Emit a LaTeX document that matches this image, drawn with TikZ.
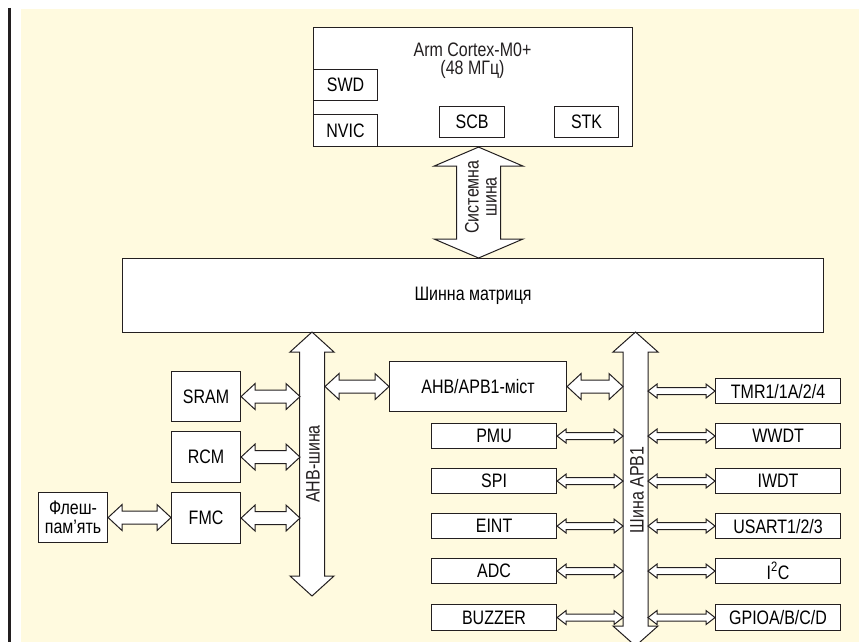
\documentclass[tikz,border=0pt]{standalone}
\usepackage{fontspec}
\setmainfont{Liberation Sans}[FakeStretch=0.82]
\usetikzlibrary{calc}
\definecolor{bg}{RGB}{255,250,223}
\definecolor{ink}{RGB}{35,31,32}
% horizontal double block arrow: left point, right point, half shaft, half head, head length
\newcommand{\hdarr}[5]{%
  \draw[busarrow] let \p1=(#1), \p2=(#2) in
    (\x1,\y1) -- (\x1+#5,\y1+#4) -- (\x1+#5,\y1+#3) -- (\x2-#5,\y1+#3) -- (\x2-#5,\y1+#4)
    -- (\x2,\y1) -- (\x2-#5,\y1-#4) -- (\x2-#5,\y1-#3) -- (\x1+#5,\y1-#3) -- (\x1+#5,\y1-#4) -- cycle;}
% vertical double block arrow: top point, bottom point, half shaft, half head, head length
\newcommand{\vdarr}[5]{%
  \draw[busarrow] let \p1=(#1), \p2=(#2) in
    (\x1,\y1) -- (\x1+#4,\y1-#5) -- (\x1+#3,\y1-#5) -- (\x1+#3,\y2+#5) -- (\x1+#4,\y2+#5)
    -- (\x1,\y2) -- (\x1-#4,\y2+#5) -- (\x1-#3,\y2+#5) -- (\x1-#3,\y1-#5) -- (\x1-#4,\y1-#5) -- cycle;}
\newcommand{\smallL}[1]{\hdarr{#1.east}{#1.east -| apbL}{3.5pt}{7pt}{9pt}}
\newcommand{\smallR}[1]{\hdarr{#1.west -| apbR}{#1.west}{3.5pt}{7pt}{9pt}}
\begin{document}
\begin{tikzpicture}[x=1pt,y=-1pt,
  txt/.style={font=\fontsize{19.5}{18}\selectfont},
  box/.style={draw=ink, line width=1.1pt, fill=white, inner sep=0pt, anchor=north west, txt},
  busarrow/.style={draw=ink, line width=1pt, fill=white, line join=miter},
  lbl/.style={inner sep=0pt, txt, text=ink}]
\useasboundingbox (0,0) rectangle (859,642);
\fill[white] (0,0) rectangle (859,642);
\fill[bg] (21,9) rectangle (859,642);
\draw[ink, line width=2.5pt] (9.7,8) -- (9.7,642);

% CPU
\node[box, minimum width=319pt, minimum height=119pt] (cortex) at (313,27) {};
\node[lbl, align=center, font=\fontsize{19.5}{18}\selectfont] (cpu) at (472.5,61) {Arm Cortex-M0+\\(48 МГц)};
\node[box, minimum width=64pt, minimum height=31pt] (swd) at (313,69) {SWD};
\node[box, minimum width=64pt, minimum height=32pt] (nvic) at (313,114) {NVIC};
\node[box, minimum width=65pt, minimum height=31pt] (scb) at (439,106) {SCB};
\node[box, minimum width=64pt, minimum height=31pt] (stk) at (554,106) {STK};

% bus matrix
\node[box, minimum width=701pt, minimum height=74pt] (matrix) at (122,258) {Шинна матриця};

% system bus
\path (cortex.south) ++(5.5,0) coordinate (sysT);
\path (sysT |- matrix.north) coordinate (sysB);
\vdarr{sysT}{sysB}{22pt}{44.5pt}{19pt}
\node[lbl, rotate=90, align=center] (syslbl) at (481,197) {Системна\\шина};

% AHB side
\node[box, minimum width=69pt, minimum height=50pt] (sram) at (171,371) {SRAM};
\node[box, minimum width=69pt, minimum height=51pt] (rcm) at (171,431) {RCM};
\node[box, minimum width=69pt, minimum height=51pt] (fmc) at (171,492) {FMC};
\node[box, minimum width=69pt, minimum height=50pt, align=center] (flash) at (38,492) {Флеш-\\[1pt]пам’ять};
\node[box, minimum width=177pt, minimum height=50pt] (bridge) at (389,361) {AHB/APB1-міст};

\coordinate (ahbT) at (312,332);
\coordinate (ahbB) at (312,596);
\coordinate (ahbL) at (300,332);
\coordinate (ahbR) at (325,332);
\vdarr{ahbT}{ahbB}{12.5pt}{22pt}{20pt}
\node[lbl, rotate=90] (ahblbl) at (313,464) {AHB-шина};

\hdarr{sram.east}{sram.east -| ahbL}{6.5pt}{13pt}{14pt}
\hdarr{rcm.east}{rcm.east -| ahbL}{6.5pt}{13pt}{14pt}
\hdarr{fmc.east}{fmc.east -| ahbL}{6.5pt}{13pt}{14pt}
\hdarr{flash.east}{fmc.west}{6.5pt}{13pt}{14pt}
\hdarr{bridge.west -| ahbR}{bridge.west}{6.5pt}{13pt}{14pt}

% APB side
\coordinate (apbT) at (635.5,332);
\coordinate (apbB) at (635.5,646);
\coordinate (apbL) at (623,332);
\coordinate (apbR) at (648,332);
\vdarr{apbT}{apbB}{12.5pt}{22.5pt}{20pt}
\node[lbl, rotate=90] (apblbl) at (637,490) {Шина APB1};
\hdarr{bridge.east}{bridge.east -| apbL}{6.5pt}{13pt}{14pt}

\node[box, minimum width=125pt, minimum height=25pt] (pmu) at (431,423) {PMU};
\node[box, minimum width=125pt, minimum height=25pt] (spi) at (431,468) {SPI};
\node[box, minimum width=125pt, minimum height=25pt] (eint) at (431,513) {EINT};
\node[box, minimum width=125pt, minimum height=25pt] (adc) at (431,558) {ADC};
\node[box, minimum width=125pt, minimum height=26pt] (buzzer) at (431,604) {BUZZER};

\node[box, minimum width=125pt, minimum height=25pt] (tmr) at (715,378) {TMR1/1A/2/4};
\node[box, minimum width=125pt, minimum height=25pt] (wwdt) at (715,423) {WWDT};
\node[box, minimum width=125pt, minimum height=25pt] (iwdt) at (715,468) {IWDT};
\node[box, minimum width=125pt, minimum height=25pt] (usart) at (715,513) {USART1/2/3};
\node[box, minimum width=125pt, minimum height=25pt] (i2c) at (715,558) {I\textsuperscript{2}C};
\node[box, minimum width=125pt, minimum height=26pt] (gpio) at (715,604) {GPIOA/B/C/D};

\smallL{pmu}
\smallL{spi}
\smallL{eint}
\smallL{adc}
\smallL{buzzer}
\smallR{tmr}
\smallR{wwdt}
\smallR{iwdt}
\smallR{usart}
\smallR{i2c}
\smallR{gpio}
\end{tikzpicture}
\end{document}
